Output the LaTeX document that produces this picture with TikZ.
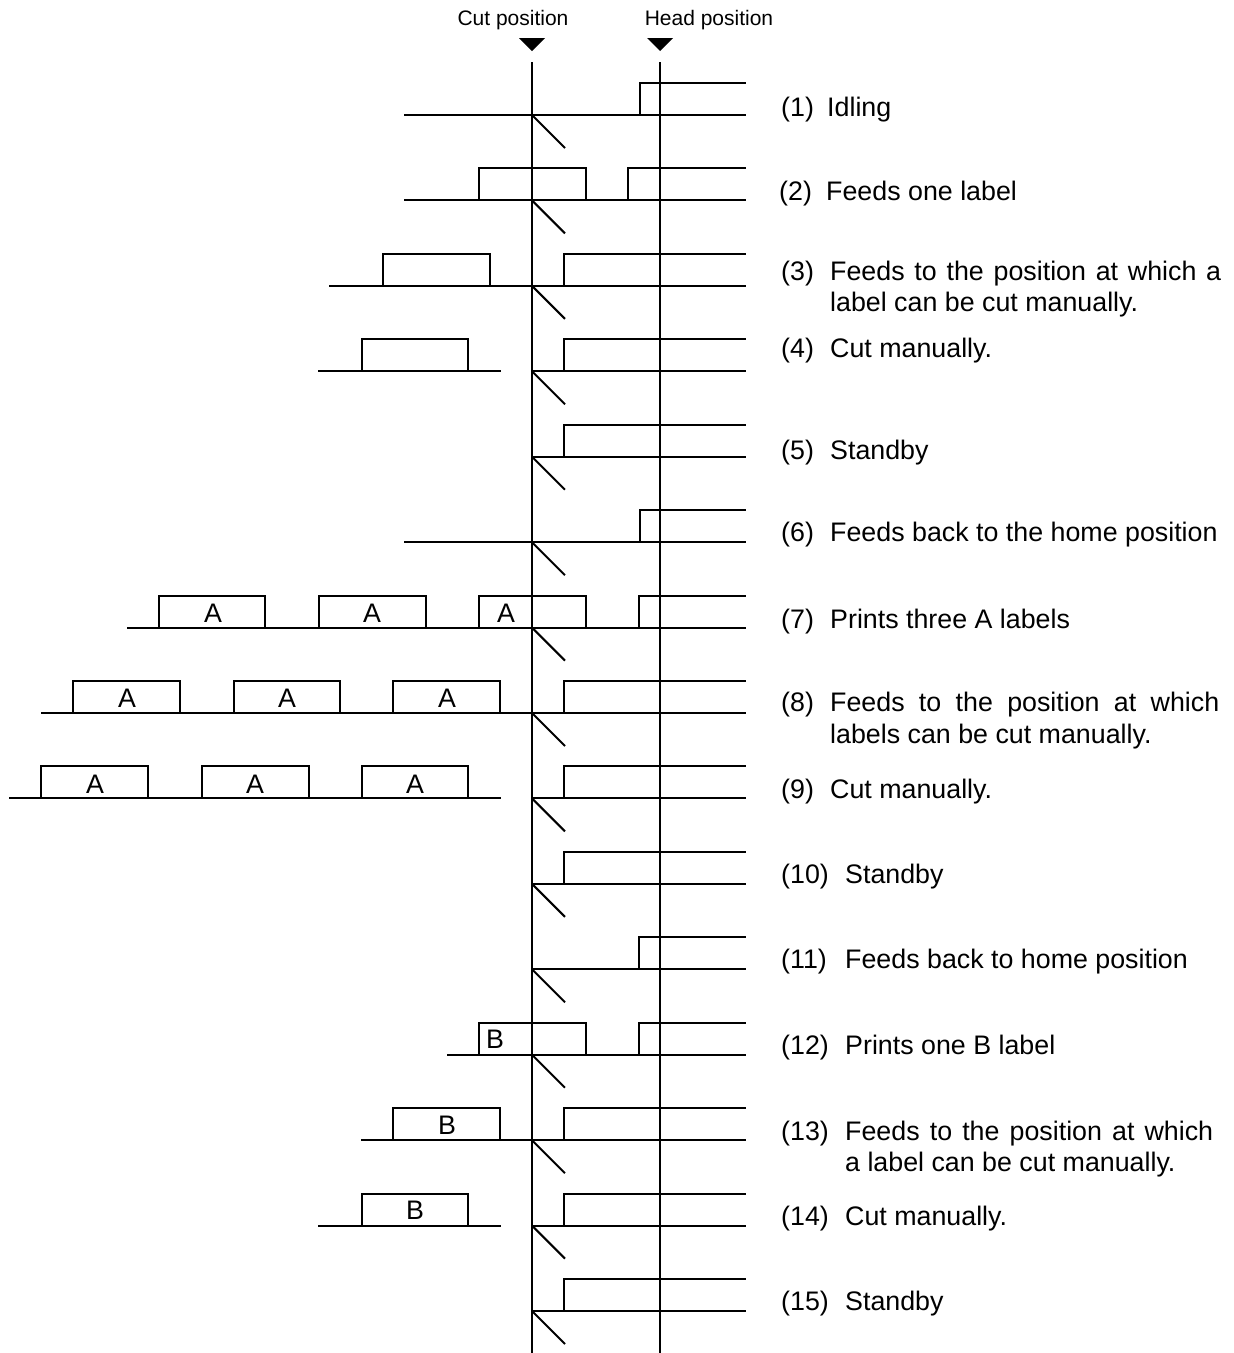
\documentclass[tikz,border=0pt]{standalone}
\usepackage{fontspec}
\setmainfont{Liberation Sans}
\begin{document}
\begin{tikzpicture}[x=1pt,y=-1pt,
  paper/.style={line width=2pt, line join=miter},
  guide/.style={line width=2pt},
  lbl/.style={anchor=base west, inner sep=0pt, font=\fontsize{26.8}{31.5}\selectfont},
  tag/.style={anchor=base, inner sep=0pt, font=\fontsize{26.8}{30}\selectfont},
  toplbl/.style={anchor=base, inner sep=0pt, font=\fontsize{21}{25}\selectfont},
  markertri/.style={fill=black, draw=none}]
\useasboundingbox (0,0) rectangle (1234,1353);
\newcommand\headstep[2]{\draw[paper] (#1,#2) -- (#1,#2-32) -- (746,#2-32);}
\newcommand\labelbox[3]{\draw[paper] (#1,#3) -- (#1,#3-32) -- (#2,#3-32) -- (#2,#3);}
\newcommand\cutmark[1]{\draw[paper] (532,#1) -- (565,#1+33);}
\newcommand\tape[3]{\draw[paper] (#1,#3) -- (#2,#3);}

% top labels and markers
\node[toplbl] (cutlbl) at (513,25) {Cut position};
\node[toplbl] (headlbl) at (709,25) {Head position};
\fill[markertri] (519,38) -- (545,38) -- (532,51) -- cycle;
\fill[markertri] (647,38) -- (673,38) -- (660,51) -- cycle;
\coordinate (cuttop) at (532,62);
\coordinate (cutbot) at (532,1353);
\coordinate (headtop) at (660,62);
\coordinate (headbot) at (660,1353);
\draw[guide] (cuttop) -- (cutbot);
\draw[guide] (headtop) -- (headbot);

% (1)
\tape{404}{746}{115} \headstep{640}{115} \cutmark{115}
% (2)
\tape{404}{746}{200.4} \labelbox{479}{586}{200.4} \headstep{628}{200.4} \cutmark{200.4}
% (3)
\tape{329}{746}{285.9} \labelbox{383}{490}{285.9} \headstep{564}{285.9} \cutmark{285.9}
% (4)
\tape{318}{501}{371.3} \labelbox{362}{468}{371.3} \tape{532}{746}{371.3} \headstep{564}{371.3} \cutmark{371.3}
% (5)
\tape{532}{746}{456.7} \headstep{564}{456.7} \cutmark{456.7}
% (6)
\tape{404}{746}{542.2} \headstep{640}{542.2} \cutmark{542.2}
% (7)
\tape{127}{746}{627.6} \labelbox{159}{265}{627.6} \labelbox{319}{426}{627.6} \labelbox{479}{586}{627.6}
\headstep{639}{627.6} \cutmark{627.6}
\node[tag] (a71) at (213,622) {A};
\node[tag] (a72) at (372,622) {A};
\node[tag] (a73) at (506,622) {A};
% (8)
\tape{41}{746}{713} \labelbox{73}{180}{713} \labelbox{234}{340}{713} \labelbox{393}{500}{713}
\headstep{564}{713} \cutmark{713}
\node[tag] (a81) at (127,707.5) {A};
\node[tag] (a82) at (287,707.5) {A};
\node[tag] (a83) at (447,707.5) {A};
% (9)
\tape{9}{501}{798.4} \labelbox{41}{148}{798.4} \labelbox{202}{309}{798.4} \labelbox{362}{468}{798.4}
\tape{532}{746}{798.4} \headstep{564}{798.4} \cutmark{798.4}
\node[tag] (a91) at (95,793) {A};
\node[tag] (a92) at (255,793) {A};
\node[tag] (a93) at (415,793) {A};
% (10)
\tape{532}{746}{883.9} \headstep{564}{883.9} \cutmark{883.9}
% (11)
\tape{532}{746}{969.3} \headstep{639}{969.3} \cutmark{969.3}
% (12)
\tape{447}{746}{1054.7} \labelbox{479}{586}{1054.7} \headstep{639}{1054.7} \cutmark{1054.7}
\node[tag] (b12) at (495,1048.5) {B};
% (13)
\tape{361}{746}{1140.2} \labelbox{393}{500}{1140.2} \headstep{564}{1140.2} \cutmark{1140.2}
\node[tag] (b13) at (447,1134) {B};
% (14)
\tape{318}{501}{1225.6} \labelbox{362}{468}{1225.6} \tape{532}{746}{1225.6} \headstep{564}{1225.6} \cutmark{1225.6}
\node[tag] (b14) at (415,1219.5) {B};
% (15)
\tape{532}{746}{1311} \headstep{564}{1311} \cutmark{1311}

% descriptions
\node[lbl] (n1) at (781,116.5) {(1)};
\node[lbl] (t1) at (827,116.5) {Idling};
\node[lbl] (n2) at (779,200) {(2)};
\node[lbl] (t2) at (826,200) {Feeds one label};
\node[lbl] (n3) at (781,280) {(3)};
\node[lbl] (t3a) at (830,280) {\makebox[391pt][s]{Feeds to the position at which a}};
\node[lbl] (t3b) at (830,311.5) {label can be cut manually.};
\node[lbl] (n4) at (781,357) {(4)};
\node[lbl] (t4) at (830,357) {Cut manually.};
\node[lbl] (n5) at (781,459) {(5)};
\node[lbl] (t5) at (830,459) {Standby};
\node[lbl] (n6) at (781,541.5) {(6)};
\node[lbl] (t6) at (830,541.5) {Feeds back to the home position};
\node[lbl] (n7) at (781,628.5) {(7)};
\node[lbl] (t7) at (830,628.5) {Prints three A labels};
\node[lbl] (n8) at (781,711.5) {(8)};
\node[lbl] (t8a) at (830,711.5) {\makebox[389pt][s]{Feeds to the position at which}};
\node[lbl] (t8b) at (830,743) {labels can be cut manually.};
\node[lbl] (n9) at (781,798.5) {(9)};
\node[lbl] (t9) at (830,798.5) {Cut manually.};
\node[lbl] (n10) at (781,883.5) {(10)};
\node[lbl] (t10) at (845,883.5) {Standby};
\node[lbl] (n11) at (781,968.5) {(11)};
\node[lbl] (t11) at (845,968.5) {Feeds back to home position};
\node[lbl] (n12) at (781,1054.5) {(12)};
\node[lbl] (t12) at (845,1054.5) {Prints one B label};
\node[lbl] (n13) at (781,1140) {(13)};
\node[lbl] (t13a) at (845,1140) {\makebox[368pt][s]{Feeds to the position at which}};
\node[lbl] (t13b) at (845,1171.5) {a label can be cut manually.};
\node[lbl] (n14) at (781,1225.5) {(14)};
\node[lbl] (t14) at (845,1225.5) {Cut manually.};
\node[lbl] (n15) at (781,1310) {(15)};
\node[lbl] (t15) at (845,1310) {Standby};
\end{tikzpicture}
\end{document}
